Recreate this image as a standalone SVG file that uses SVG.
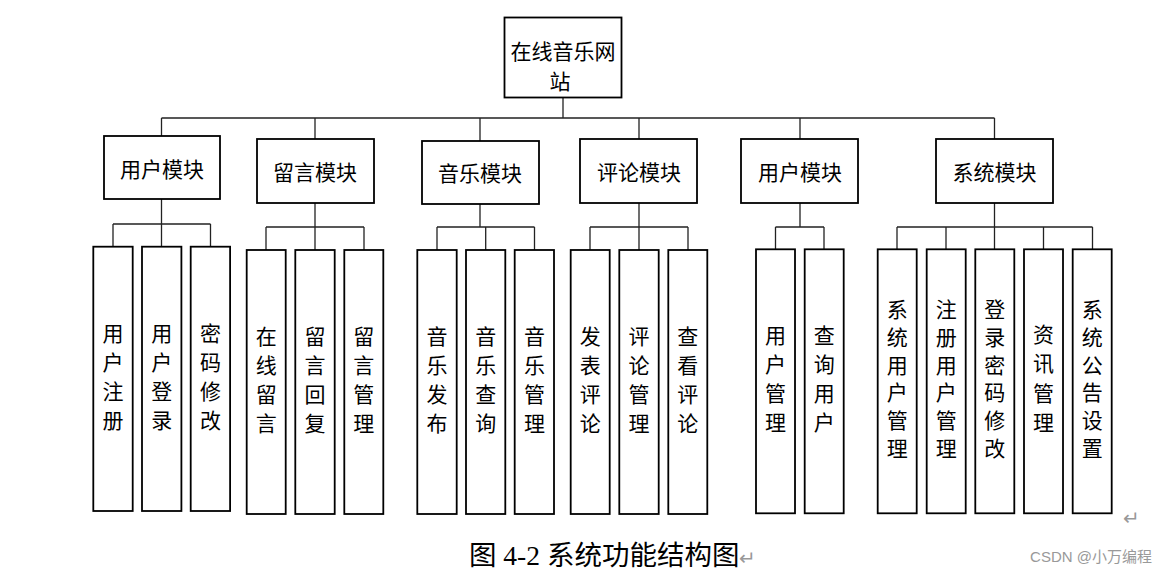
<svg xmlns="http://www.w3.org/2000/svg" width="1165" height="575" viewBox="0 0 1165 575">
<style>
.box{fill:#fff;stroke:#000;stroke-width:1.8}
.ln{fill:none;stroke:#222;stroke-width:1.3}
.t{font-family:"Liberation Serif","Noto Sans CJK SC",serif;font-size:21px;fill:#000;text-anchor:middle}
.cap{font-family:"Liberation Serif","Noto Sans CJK SC",serif;font-size:27.5px;fill:#000}
.gray{fill:#999;font-family:"Liberation Sans","Noto Sans CJK SC",sans-serif}
</style>
<rect width="1165" height="575" fill="#fff"/>
<g id="connectors">
<path class="ln" d="M563,97.5V118M161.5,118H994.5M161.5,118V136M315,118V139M480,118V141M639,118V139M800,118V139M994.5,118V139"/>
<path class="ln" d="M161.5,199V224M113,224H210.5M113,224V246.7M161.5,224V246.7M210.5,224V246.7"/>
<path class="ln" d="M315,203V227M266,227H364M266,227V250M315,227V250M364,227V250"/>
<path class="ln" d="M480,204V227M437,227H534.5M437,227V250M485.7,227V250M534.5,227V250"/>
<path class="ln" d="M639,203V227M590,227H688M590,227V250M639,227V250M688,227V250"/>
<path class="ln" d="M800,203V227M775.5,227H824M775.5,227V249.3M824,227V249.3"/>
<path class="ln" d="M994.5,203V227M897,227H1092.5M897,227V249.3M946,227V249.3M994.5,227V249.3M1043.5,227V249.3M1092.5,227V249.3"/>
</g>
<g id="root"><rect class="box" x="504.5" y="17.5" width="117" height="80"/><text class="t" x="563" y="59">在线音乐网</text><text class="t" x="560" y="89">站</text></g>
<g id="m1"><rect class="box" x="104" y="136" width="116" height="63"/><text class="t" x="162" y="177">用户模块</text></g>
<g id="m2"><rect class="box" x="257" y="139" width="117" height="64"/><text class="t" x="315" y="180">留言模块</text></g>
<g id="m3"><rect class="box" x="422" y="141" width="117" height="63"/><text class="t" x="480" y="181">音乐模块</text></g>
<g id="m4"><rect class="box" x="580" y="139" width="117" height="64"/><text class="t" x="639" y="180">评论模块</text></g>
<g id="m5"><rect class="box" x="741" y="139" width="117" height="64"/><text class="t" x="800" y="180">用户模块</text></g>
<g id="m6"><rect class="box" x="936" y="139" width="117" height="64"/><text class="t" x="994.5" y="180">系统模块</text></g>
<g id="l1"><rect class="box" x="93.3" y="246.7" width="39.4" height="264.3"/><text class="t"><tspan x="113" y="340.5">用</tspan><tspan x="113" y="369.8">户</tspan><tspan x="113" y="399.1">注</tspan><tspan x="113" y="428.4">册</tspan></text></g>
<g id="l2"><rect class="box" x="142" y="246.7" width="39.4" height="264.3"/><text class="t"><tspan x="161.7" y="340.5">用</tspan><tspan x="161.7" y="369.8">户</tspan><tspan x="161.7" y="399.1">登</tspan><tspan x="161.7" y="428.4">录</tspan></text></g>
<g id="l3"><rect class="box" x="190.7" y="246.7" width="39.4" height="264.3"/><text class="t"><tspan x="210.4" y="340.5">密</tspan><tspan x="210.4" y="369.8">码</tspan><tspan x="210.4" y="399.1">修</tspan><tspan x="210.4" y="428.4">改</tspan></text></g>
<g id="l4"><rect class="box" x="246.7" y="250" width="39" height="264"/><text class="t"><tspan x="266.2" y="343.5">在</tspan><tspan x="266.2" y="372.8">线</tspan><tspan x="266.2" y="402.1">留</tspan><tspan x="266.2" y="431.4">言</tspan></text></g>
<g id="l5"><rect class="box" x="295.3" y="250" width="39.4" height="264"/><text class="t"><tspan x="315" y="343.5">留</tspan><tspan x="315" y="372.8">言</tspan><tspan x="315" y="402.1">回</tspan><tspan x="315" y="431.4">复</tspan></text></g>
<g id="l6"><rect class="box" x="344.3" y="250" width="39" height="264"/><text class="t"><tspan x="363.8" y="343.5">留</tspan><tspan x="363.8" y="372.8">言</tspan><tspan x="363.8" y="402.1">管</tspan><tspan x="363.8" y="431.4">理</tspan></text></g>
<g id="l7"><rect class="box" x="417.3" y="250" width="39.4" height="264"/><text class="t"><tspan x="437" y="343.5">音</tspan><tspan x="437" y="372.8">乐</tspan><tspan x="437" y="402.1">发</tspan><tspan x="437" y="431.4">布</tspan></text></g>
<g id="l8"><rect class="box" x="466" y="250" width="39.3" height="264"/><text class="t"><tspan x="485.7" y="343.5">音</tspan><tspan x="485.7" y="372.8">乐</tspan><tspan x="485.7" y="402.1">查</tspan><tspan x="485.7" y="431.4">询</tspan></text></g>
<g id="l9"><rect class="box" x="514.7" y="250" width="39.3" height="264"/><text class="t"><tspan x="534.4" y="343.5">音</tspan><tspan x="534.4" y="372.8">乐</tspan><tspan x="534.4" y="402.1">管</tspan><tspan x="534.4" y="431.4">理</tspan></text></g>
<g id="l10"><rect class="box" x="570.7" y="250" width="39" height="264"/><text class="t"><tspan x="590.2" y="343.5">发</tspan><tspan x="590.2" y="372.8">表</tspan><tspan x="590.2" y="402.1">评</tspan><tspan x="590.2" y="431.4">论</tspan></text></g>
<g id="l11"><rect class="box" x="619.3" y="250" width="39.4" height="264"/><text class="t"><tspan x="639" y="343.5">评</tspan><tspan x="639" y="372.8">论</tspan><tspan x="639" y="402.1">管</tspan><tspan x="639" y="431.4">理</tspan></text></g>
<g id="l12"><rect class="box" x="668.3" y="250" width="39" height="264"/><text class="t"><tspan x="687.8" y="343.5">查</tspan><tspan x="687.8" y="372.8">看</tspan><tspan x="687.8" y="402.1">评</tspan><tspan x="687.8" y="431.4">论</tspan></text></g>
<g id="l13"><rect class="box" x="756" y="249.3" width="39" height="264"/><text class="t"><tspan x="775.5" y="342.5">用</tspan><tspan x="775.5" y="371.8">户</tspan><tspan x="775.5" y="401.1">管</tspan><tspan x="775.5" y="430.4">理</tspan></text></g>
<g id="l14"><rect class="box" x="804.7" y="249.3" width="39" height="264"/><text class="t"><tspan x="824.2" y="342.5">查</tspan><tspan x="824.2" y="371.8">询</tspan><tspan x="824.2" y="401.1">用</tspan><tspan x="824.2" y="430.4">户</tspan></text></g>
<g id="l15"><rect class="box" x="877.7" y="249.3" width="39" height="264"/><text class="t"><tspan x="897.2" y="317">系</tspan><tspan x="897.2" y="344.8">统</tspan><tspan x="897.2" y="372.6">用</tspan><tspan x="897.2" y="400.4">户</tspan><tspan x="897.2" y="428.2">管</tspan><tspan x="897.2" y="456">理</tspan></text></g>
<g id="l16"><rect class="box" x="926.7" y="249.3" width="39" height="264"/><text class="t"><tspan x="946.2" y="317">注</tspan><tspan x="946.2" y="344.8">册</tspan><tspan x="946.2" y="372.6">用</tspan><tspan x="946.2" y="400.4">户</tspan><tspan x="946.2" y="428.2">管</tspan><tspan x="946.2" y="456">理</tspan></text></g>
<g id="l17"><rect class="box" x="975.3" y="249.3" width="39" height="264"/><text class="t"><tspan x="994.8" y="317">登</tspan><tspan x="994.8" y="344.8">录</tspan><tspan x="994.8" y="372.6">密</tspan><tspan x="994.8" y="400.4">码</tspan><tspan x="994.8" y="428.2">修</tspan><tspan x="994.8" y="456">改</tspan></text></g>
<g id="l18"><rect class="box" x="1024" y="249.3" width="39" height="264"/><text class="t"><tspan x="1043.5" y="342">资</tspan><tspan x="1043.5" y="371.3">讯</tspan><tspan x="1043.5" y="400.6">管</tspan><tspan x="1043.5" y="429.9">理</tspan></text></g>
<g id="l19"><rect class="box" x="1072.7" y="249.3" width="39" height="264"/><text class="t"><tspan x="1092.2" y="317">系</tspan><tspan x="1092.2" y="344.8">统</tspan><tspan x="1092.2" y="372.6">公</tspan><tspan x="1092.2" y="400.4">告</tspan><tspan x="1092.2" y="428.2">设</tspan><tspan x="1092.2" y="456">置</tspan></text></g>
<text class="gray" x="1131" y="525" font-size="20" text-anchor="middle">↵</text>
<text class="cap" x="469" y="565">图 4-2 系统功能结构图<tspan fill="#999" font-size="20">↵</tspan></text>
<text class="gray" x="1152" y="562" font-size="15" text-anchor="end">CSDN @小万编程</text>
</svg>
